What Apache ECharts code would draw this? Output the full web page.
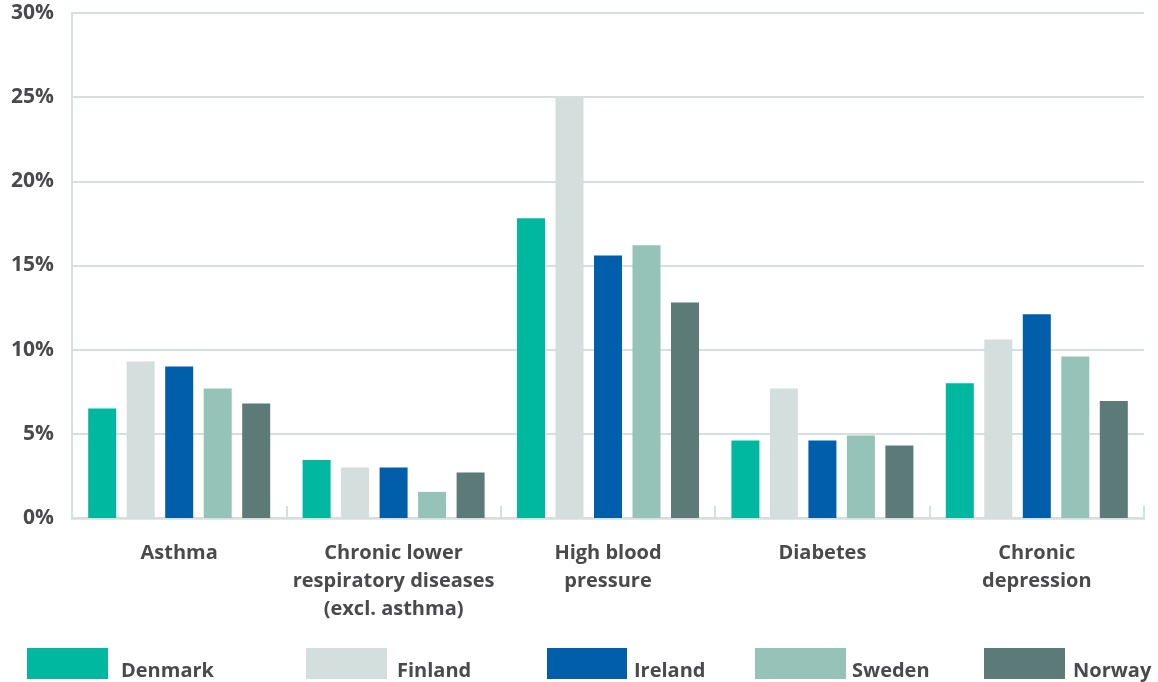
<!DOCTYPE html>
<html>
<head>
<meta charset="utf-8">
<script src="https://cdn.jsdelivr.net/npm/echarts@6/dist/echarts.min.js"></script>
<style>
    html, body { margin: 0; padding: 0; background: #fff; }
    #chart { width: 1158px; height: 682px; }
</style>
</head>
<body>
<div id="chart"></div>
<script>
// categories and values (percent)
var categories = ['Asthma', 'Chronic lower\nrespiratory diseases\n(excl. asthma)', 'High blood\npressure', 'Diabetes', 'Chronic\ndepression'];
var countries = ['Denmark', 'Finland', 'Ireland', 'Sweden', 'Norway'];
var denmark = [6.5, 3.45, 17.8, 4.6, 8.0];
var finland = [9.3, 3.0, 25.0, 7.7, 10.6];
var ireland = [9.0, 3.0, 15.6, 4.6, 12.1];
var sweden = [7.7, 1.55, 16.2, 4.9, 9.6];
var norway = [6.8, 2.7, 12.8, 4.3, 6.95];
var yTicks = [0, 5, 10, 15, 20, 25, 30];

var colors = ['#00b8a0', '#d4dedc', '#005eab', '#95c3b8', '#5b7a78'];
var seriesData = [denmark, finland, ireland, sweden, norway];
var textColor = '#4a4a4c';
var lineColor = '#d6dfdd';

var chart = echarts.init(document.getElementById('chart'));

// one legend per item so each can be placed like the original
var legendPos = [
    { left: 27, w: 81, pad: 8 },
    { left: 306, w: 81, pad: 5 },
    { left: 547, w: 80, pad: 2 },
    { left: 755, w: 91, pad: 1 },
    { left: 984, w: 81, pad: 3 }
];
var legends = countries.map(function (name, i) {
    return {
        data: [name],
        left: legendPos[i].left,
        top: 648,
        padding: 0,
        icon: 'rect',
        itemWidth: legendPos[i].w,
        itemHeight: 31,
        selectedMode: false,
        formatter: '{n|{name}}',
        textStyle: {
            color: textColor,
            fontFamily: 'Open Sans',
            fontWeight: 'bold',
            fontSize: 20,
            rich: {
                n: {
                    color: textColor,
                    fontFamily: 'Open Sans',
                    fontWeight: 'bold',
                    fontSize: 20,
                    padding: [16, 0, 0, legendPos[i].pad]
                }
            }
        }
    };
});

var option = {
    animation: false,
    color: colors,
    legend: legends,
    grid: {
        left: 72,
        right: 14,
        top: 13,
        bottom: 164
    },
    xAxis: {
        type: 'category',
        data: categories,
        axisLine: {
            lineStyle: { color: lineColor, width: 2.5 }
        },
        axisTick: {
            show: true,
            inside: true,
            length: 12,
            lineStyle: { color: lineColor, width: 2 }
        },
        axisLabel: {
            margin: 21,
            color: textColor,
            fontFamily: 'Open Sans',
            fontWeight: 'bold',
            fontSize: 20,
            lineHeight: 28,
            interval: 0
        }
    },
    yAxis: {
        type: 'value',
        min: yTicks[0],
        max: yTicks[yTicks.length - 1],
        interval: 5,
        axisLine: {
            show: true,
            lineStyle: { color: lineColor, width: 2 }
        },
        axisTick: { show: false },
        splitLine: {
            lineStyle: { color: lineColor, width: 2 }
        },
        axisLabel: {
            margin: 18,
            color: textColor,
            fontFamily: 'Open Sans',
            fontWeight: 'bold',
            fontSize: 21,
            formatter: '{value}%'
        }
    },
    series: countries.map(function (name, i) {
        return {
            name: name,
            type: 'bar',
            barWidth: 28,
            barGap: '37.5%',
            data: seriesData[i]
        };
    })
};
chart.setOption(option);
</script>
</body>
</html>
